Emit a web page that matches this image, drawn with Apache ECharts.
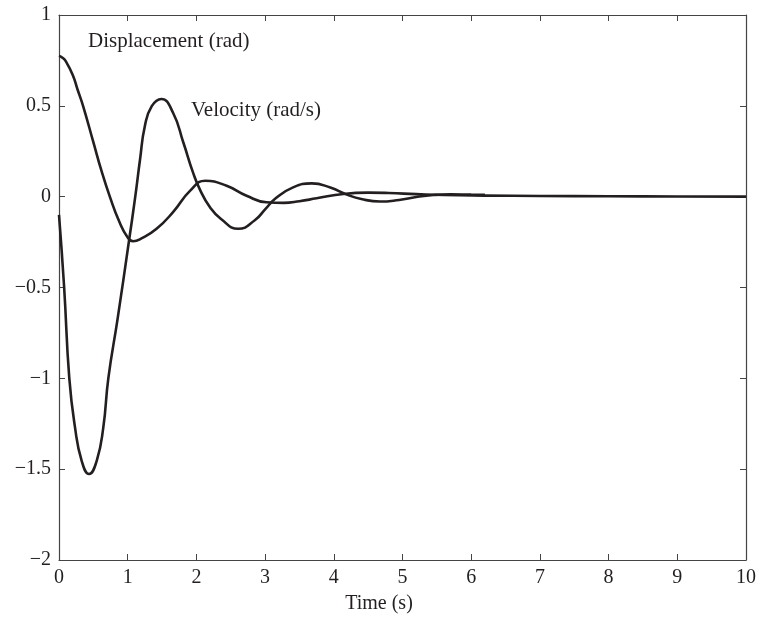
<!DOCTYPE html>
<html lang="en">

<head>
    <meta charset="UTF-8">
    <title>Displacement and velocity</title>
    <script src="https://cdn.jsdelivr.net/npm/echarts@6.0.0/dist/echarts.min.js"></script>
    <style>
        body { margin: 0; background: #fff; }
    </style>
</head>

<body>
    <div id="main" style="width: 759px; height: 619px;"></div>

    <script type="text/javascript">
        // values
        const dispTime = [0, 0.05, 0.1, 0.2, 0.27, 0.35, 0.5, 0.62, 0.74, 0.88, 1.0, 1.08, 1.2, 1.42, 1.66, 1.91, 2.13,
            2.44, 2.73, 3.02, 3.27, 3.5, 3.75, 4.14, 4.5, 4.8, 5.2, 5.6, 6.2, 7, 8, 9, 10];
        const dispValues = [0.775, 0.765, 0.745, 0.67, 0.59, 0.5, 0.3, 0.14, 0.0, -0.14, -0.225, -0.245, -0.23, -0.177, -0.085, 0.033, 0.088,
            0.06, 0.005, -0.031, -0.034, -0.025, -0.009, 0.015, 0.022, 0.02, 0.014, 0.009, 0.006, 0.004, 0.002, 0.001, 0.0];

        const velTime = [0, 0.075, 0.15, 0.233, 0.33, 0.437, 0.549, 0.645, 0.718, 0.854, 1.02, 1.11, 1.18, 1.25, 1.35,
            1.49, 1.66, 1.81, 1.95, 2.05, 2.2, 2.35, 2.61, 2.85, 3.0, 3.15, 3.4, 3.68, 3.95, 4.2, 4.4, 4.67,
            4.95, 5.2, 5.45, 5.7, 6.0, 6.2];
        const velValues = [-0.10, -0.5, -1.0, -1.27, -1.454, -1.527, -1.454, -1.27, -1.0, -0.67, -0.24, 0.0, 0.206, 0.389, 0.498,
            0.538, 0.462, 0.298, 0.134, 0.04, -0.06, -0.12, -0.177, -0.13, -0.07, -0.01, 0.05, 0.073, 0.05, 0.01, -0.013, -0.027,
            -0.018, -0.002, 0.009, 0.013, 0.011, 0.01];

        const font = 'Liberation Serif';
        const ink = '#231f20';
        const axisColor = '#444';

        let myChart = echarts.init(document.getElementById('main'));

        const minus = v => String(v).replace('-', '\u2212');

        // shared frame style, the top and right axes only mirror the ticks
        const frameLine = { show: true, onZero: false, lineStyle: { color: axisColor, width: 1.2 } };
        const frameTick = { inside: true, length: 6, lineStyle: { color: axisColor } };

        let options = {
            animation: false,
            backgroundColor: '#fff',
            grid: { left: 59, right: 13, top: 15, bottom: 56 },
            xAxis: [{
                type: 'value',
                min: 0,
                max: 10,
                interval: 1,
                name: 'Time (s)',
                nameLocation: 'middle',
                nameGap: 34,
                nameTextStyle: { fontFamily: font, fontSize: 20, color: ink, padding: [0, 47, 0, 0] },
                axisLine: frameLine,
                axisTick: frameTick,
                axisLabel: { fontFamily: font, fontSize: 20, color: ink, margin: 8 },
                splitLine: { show: false }
            }, {
                type: 'value',
                position: 'top',
                min: 0,
                max: 10,
                interval: 1,
                axisLine: frameLine,
                axisTick: frameTick,
                axisLabel: { show: false },
                splitLine: { show: false }
            }],
            yAxis: [{
                type: 'value',
                min: -2,
                max: 1,
                interval: 0.5,
                axisLine: frameLine,
                axisTick: frameTick,
                axisLabel: { fontFamily: font, fontSize: 20, color: ink, margin: 8, formatter: minus },
                splitLine: { show: false }
            }, {
                type: 'value',
                position: 'right',
                min: -2,
                max: 1,
                interval: 0.5,
                axisLine: frameLine,
                axisTick: frameTick,
                axisLabel: { show: false },
                splitLine: { show: false }
            }],
            graphic: [{
                type: 'text',
                left: 88,
                top: 31,
                style: { text: 'Displacement (rad)', font: '21px "Liberation Serif"', fill: ink }
            }, {
                type: 'text',
                left: 191,
                top: 100,
                style: { text: 'Velocity (rad/s)', font: '21px "Liberation Serif"', fill: ink }
            }],
            series: [{
                name: 'Displacement (rad)',
                type: 'line',
                xAxisIndex: 0,
                yAxisIndex: 0,
                data: dispTime.map((t, i) => [t, dispValues[i]]),
                smooth: 0.5,
                showSymbol: false,
                lineStyle: { color: ink, width: 2.6 }
            }, {
                name: 'Velocity (rad/s)',
                type: 'line',
                xAxisIndex: 0,
                yAxisIndex: 0,
                data: velTime.map((t, i) => [t, velValues[i]]),
                smooth: 0.5,
                showSymbol: false,
                lineStyle: { color: ink, width: 2.6 }
            }]
        };

        myChart.setOption(options);

        window.addEventListener('resize', () => {
            myChart.resize();
        });
    </script>
</body>

</html>
